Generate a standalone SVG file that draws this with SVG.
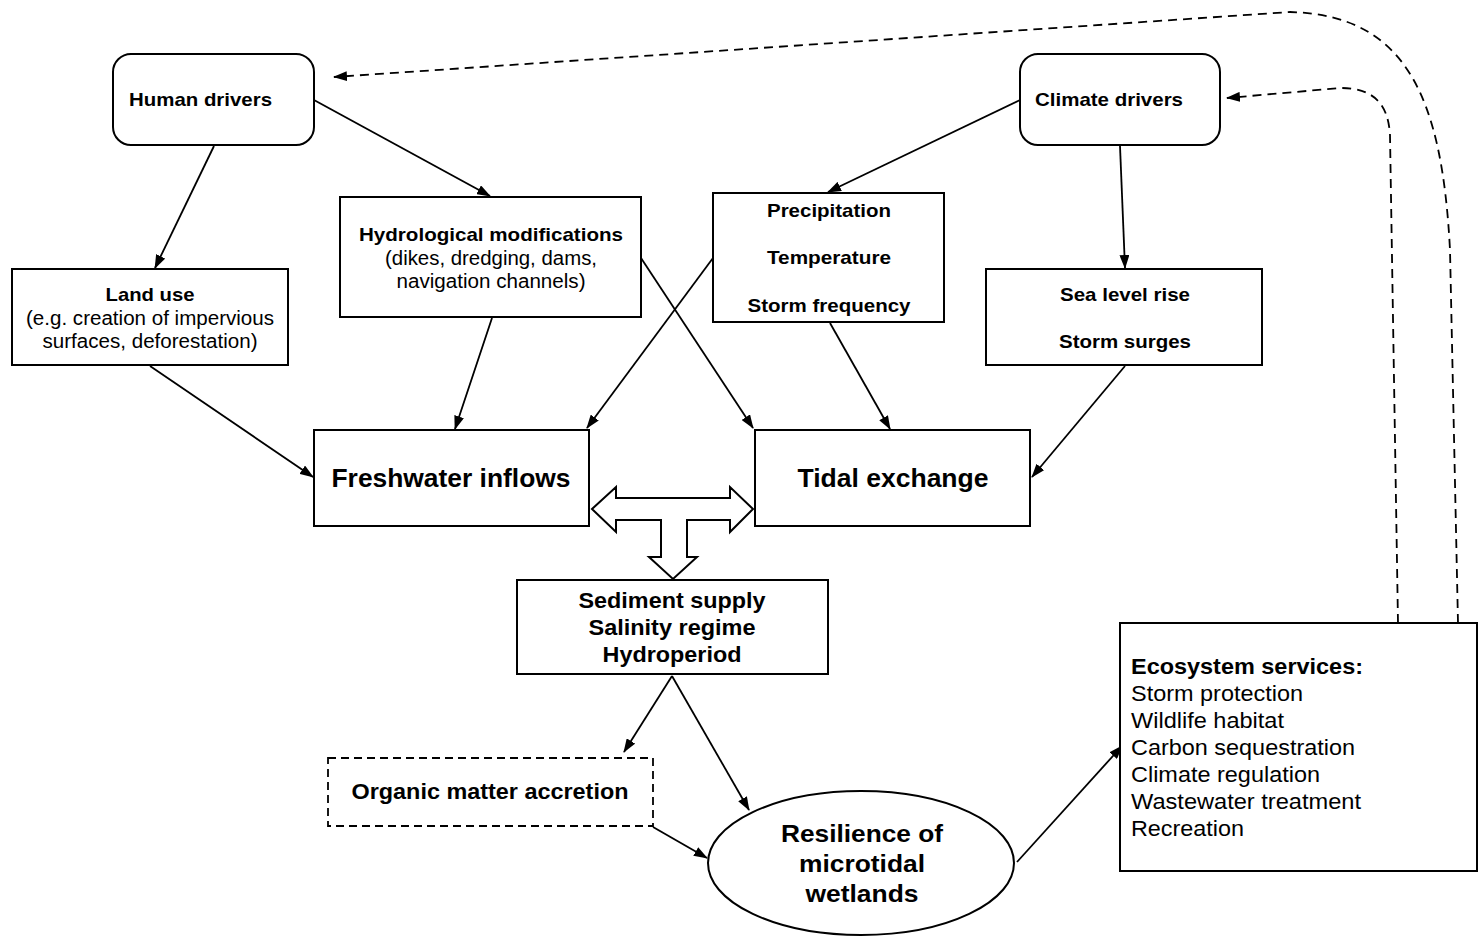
<svg xmlns="http://www.w3.org/2000/svg" width="1478" height="937" viewBox="0 0 1478 937">
<defs>
<marker id="ah" markerWidth="14" markerHeight="10" refX="13" refY="5" orient="auto" markerUnits="userSpaceOnUse">
<path d="M0,0 L14,5 L0,10 Z" fill="#000"/>
</marker>
<style>
.box{fill:#fff;stroke:#000;stroke-width:2}
.t{font-family:"Liberation Sans",Arial,sans-serif;fill:#000}
.b{font-weight:bold}
.c{text-anchor:middle}
.ln{fill:none;stroke:#000;stroke-width:1.8;marker-end:url(#ah)}
.dl{fill:none;stroke:#000;stroke-width:1.8;stroke-dasharray:9,6;marker-end:url(#ah)}
</style>
</defs>
<rect width="1478" height="937" fill="#fff"/>
<g id="connectors">
<line class="ln" x1="214" y1="146" x2="155" y2="268"/>
<line class="ln" x1="314" y1="100" x2="490" y2="196"/>
<line class="ln" x1="1020" y1="100" x2="828" y2="192"/>
<line class="ln" x1="1120" y1="146" x2="1125" y2="268"/>
<line class="ln" x1="150" y1="366" x2="313" y2="477"/>
<line class="ln" x1="492" y1="318" x2="455" y2="429"/>
<line class="ln" x1="713" y1="258" x2="587" y2="428"/>
<line class="ln" x1="641" y1="258" x2="753" y2="428"/>
<line class="ln" x1="830" y1="323" x2="890" y2="429"/>
<line class="ln" x1="1125" y1="366" x2="1032" y2="477"/>
<line class="ln" x1="672" y1="676" x2="624" y2="752"/>
<line class="ln" x1="672" y1="676" x2="749" y2="810"/>
<line class="ln" x1="653" y1="827" x2="707" y2="858"/>
<line class="ln" x1="1017" y1="862" x2="1122" y2="746"/>
<path class="dl" d="M1458,623 L1450,250 C1442,95 1405,15 1290,12 L334,77"/>
<path class="dl" d="M1398,623 L1390,135 C1388,102 1372,88 1340,88 L1227,98"/>
<polygon fill="#fff" stroke="#000" stroke-width="2" points="592,509 616,487 616,498 730,498 730,487 753,509 730,532 730,520 687,520 687,557 697,557 673,579 649,557 661,557 661,520 616,520 616,532"/>
</g>
<g id="human-drivers">
<rect class="box" x="113" y="54" width="201" height="91" rx="18"/>
<text class="t b" x="129" y="106" font-size="19" textLength="143" lengthAdjust="spacingAndGlyphs">Human drivers</text>
</g>
<g id="climate-drivers">
<rect class="box" x="1020" y="54" width="200" height="91" rx="18"/>
<text class="t b" x="1035" y="106" font-size="19" textLength="148" lengthAdjust="spacingAndGlyphs">Climate drivers</text>
</g>
<g id="land-use">
<rect class="box" x="12" y="269" width="276" height="96"/>
<text class="t b c" x="150" y="301" font-size="19" textLength="89" lengthAdjust="spacingAndGlyphs">Land use</text>
<text class="t c" x="150" y="325" font-size="19.5" textLength="248" lengthAdjust="spacingAndGlyphs">(e.g. creation of impervious</text>
<text class="t c" x="150" y="348" font-size="19.5" textLength="215" lengthAdjust="spacingAndGlyphs">surfaces, deforestation)</text>
</g>
<g id="hydrological">
<rect class="box" x="340" y="197" width="301" height="120"/>
<text class="t b c" x="491" y="241" font-size="19" textLength="264" lengthAdjust="spacingAndGlyphs">Hydrological modifications</text>
<text class="t c" x="491" y="265" font-size="19.5" textLength="212" lengthAdjust="spacingAndGlyphs">(dikes, dredging, dams,</text>
<text class="t c" x="491" y="288" font-size="19.5" textLength="189" lengthAdjust="spacingAndGlyphs">navigation channels)</text>
</g>
<g id="climate-factors">
<rect class="box" x="713" y="193" width="231" height="129"/>
<text class="t b c" x="829" y="217" font-size="19" textLength="124" lengthAdjust="spacingAndGlyphs">Precipitation</text>
<text class="t b c" x="829" y="264" font-size="19" textLength="124" lengthAdjust="spacingAndGlyphs">Temperature</text>
<text class="t b c" x="829" y="312" font-size="19" textLength="163" lengthAdjust="spacingAndGlyphs">Storm frequency</text>
</g>
<g id="sea-level">
<rect class="box" x="986" y="269" width="276" height="96"/>
<text class="t b c" x="1125" y="301" font-size="19" textLength="130" lengthAdjust="spacingAndGlyphs">Sea level rise</text>
<text class="t b c" x="1125" y="348" font-size="19" textLength="132" lengthAdjust="spacingAndGlyphs">Storm surges</text>
</g>
<g id="freshwater">
<rect class="box" x="314" y="430" width="275" height="96"/>
<text class="t b c" x="451" y="487" font-size="25" textLength="239" lengthAdjust="spacingAndGlyphs">Freshwater inflows</text>
</g>
<g id="tidal">
<rect class="box" x="755" y="430" width="275" height="96"/>
<text class="t b c" x="893" y="487" font-size="25" textLength="191" lengthAdjust="spacingAndGlyphs">Tidal exchange</text>
</g>
<g id="sediment">
<rect class="box" x="517" y="580" width="311" height="94"/>
<text class="t b c" x="672" y="608" font-size="22" textLength="187" lengthAdjust="spacingAndGlyphs">Sediment supply</text>
<text class="t b c" x="672" y="635" font-size="22" textLength="167" lengthAdjust="spacingAndGlyphs">Salinity regime</text>
<text class="t b c" x="672" y="662" font-size="22" textLength="139" lengthAdjust="spacingAndGlyphs">Hydroperiod</text>
</g>
<g id="organic">
<rect x="328" y="758" width="325" height="68" fill="#fff" stroke="#000" stroke-width="1.8" stroke-dasharray="8,5"/>
<text class="t b c" x="490" y="799" font-size="21.5" textLength="277" lengthAdjust="spacingAndGlyphs">Organic matter accretion</text>
</g>
<g id="resilience">
<ellipse cx="861" cy="863" rx="153" ry="72" fill="#fff" stroke="#000" stroke-width="2"/>
<text class="t b c" x="862" y="842" font-size="24.5" textLength="162" lengthAdjust="spacingAndGlyphs">Resilience of</text>
<text class="t b c" x="862" y="872" font-size="24.5" textLength="126" lengthAdjust="spacingAndGlyphs">microtidal</text>
<text class="t b c" x="862" y="902" font-size="24.5" textLength="113" lengthAdjust="spacingAndGlyphs">wetlands</text>
</g>
<g id="ecosystem">
<rect class="box" x="1120" y="623" width="357" height="248"/>
<text class="t b" x="1131" y="674" font-size="22" textLength="232" lengthAdjust="spacingAndGlyphs">Ecosystem services:</text>
<text class="t" x="1131" y="701" font-size="22" textLength="172" lengthAdjust="spacingAndGlyphs">Storm protection</text>
<text class="t" x="1131" y="728" font-size="22" textLength="153" lengthAdjust="spacingAndGlyphs">Wildlife habitat</text>
<text class="t" x="1131" y="755" font-size="22" textLength="224" lengthAdjust="spacingAndGlyphs">Carbon sequestration</text>
<text class="t" x="1131" y="782" font-size="22" textLength="189" lengthAdjust="spacingAndGlyphs">Climate regulation</text>
<text class="t" x="1131" y="809" font-size="22" textLength="230" lengthAdjust="spacingAndGlyphs">Wastewater treatment</text>
<text class="t" x="1131" y="836" font-size="22" textLength="113" lengthAdjust="spacingAndGlyphs">Recreation</text>
</g>
</svg>
